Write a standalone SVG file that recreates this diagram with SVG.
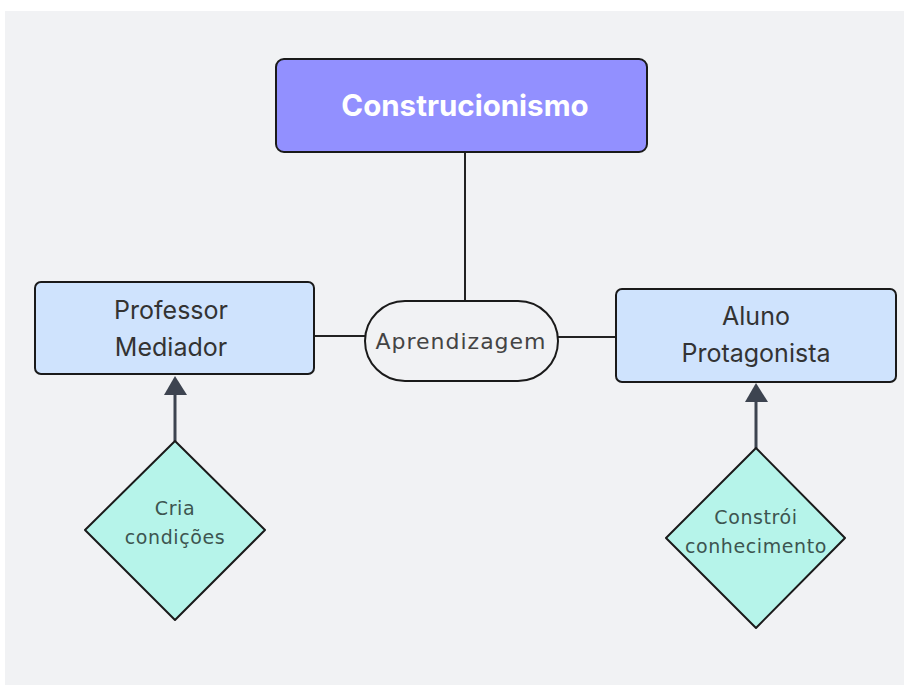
<svg xmlns="http://www.w3.org/2000/svg" width="904" height="685" viewBox="0 0 904 685">
<defs>
<style>
.rect{fill:#CFE3FD;stroke:#1a1a1a;stroke-width:2}
.dia{fill:#B6F4EA;stroke:#1a1a1a;stroke-width:2;stroke-linejoin:round}
.t{font-family:"Inter","Liberation Sans",sans-serif;font-size:25px;fill:#333;text-anchor:middle}
.td{font-family:"DejaVu Sans","Liberation Sans",sans-serif;font-size:19px;letter-spacing:0.6px;fill:#3d5550;text-anchor:middle}
.line{stroke:#222;stroke-width:2;fill:none}
.arr{stroke:#3D4450;stroke-width:3;fill:none}
</style>
</defs>
<rect x="0" y="0" width="904" height="685" fill="#ffffff"/>
<rect x="5" y="11" width="899" height="674" fill="#F1F2F4"/>
<g id="connectors">
<line class="line" x1="465" y1="152" x2="465" y2="301"/>
<line class="line" x1="314" y1="336" x2="365" y2="336"/>
<line class="line" x1="558" y1="337" x2="616" y2="337"/>
<path d="M175,441 L175,395" class="arr"/>
<path d="M164,395 L175,376 L187,395 Z" fill="#3D4450"/>
<path d="M756,448 L756,402" class="arr"/>
<path d="M745,402 L756,383 L768,402 Z" fill="#3D4450"/>
</g>
<g id="construcionismo">
<rect x="276" y="59" width="371" height="93" rx="8" fill="#9290FF" stroke="#1a1a1a" stroke-width="2"/>
<text x="465" y="116" font-family="Inter,'Liberation Sans',sans-serif" font-size="29.5" font-weight="bold" fill="#ffffff" text-anchor="middle">Construcionismo</text>
</g>
<g id="professor">
<rect class="rect" x="35" y="282" width="279" height="92" rx="6"/>
<text class="t" x="171" y="319">Professor</text>
<text class="t" x="171" y="356">Mediador</text>
</g>
<g id="aprendizagem">
<rect x="365" y="301" width="193" height="80" rx="40" fill="#F1F2F4" stroke="#1a1a1a" stroke-width="2"/>
<text x="461" y="349" font-family="'DejaVu Sans','Liberation Sans',sans-serif" font-size="22" letter-spacing="1" fill="#444" text-anchor="middle">Aprendizagem</text>
</g>
<g id="aluno">
<rect class="rect" x="616" y="289" width="280" height="93" rx="6"/>
<text class="t" x="756" y="325">Aluno</text>
<text class="t" x="756" y="362">Protagonista</text>
</g>
<g id="cria">
<path class="dia" d="M175,441 L265,530 L175,620 L85,530 Z"/>
<text class="td" x="175" y="515">Cria</text>
<text class="td" x="175" y="544">condições</text>
</g>
<g id="constroi">
<path class="dia" d="M756,448 L845,538 L756,628 L666,538 Z"/>
<text class="td" x="756" y="524">Constrói</text>
<text class="td" x="756" y="553">conhecimento</text>
</g>
</svg>
